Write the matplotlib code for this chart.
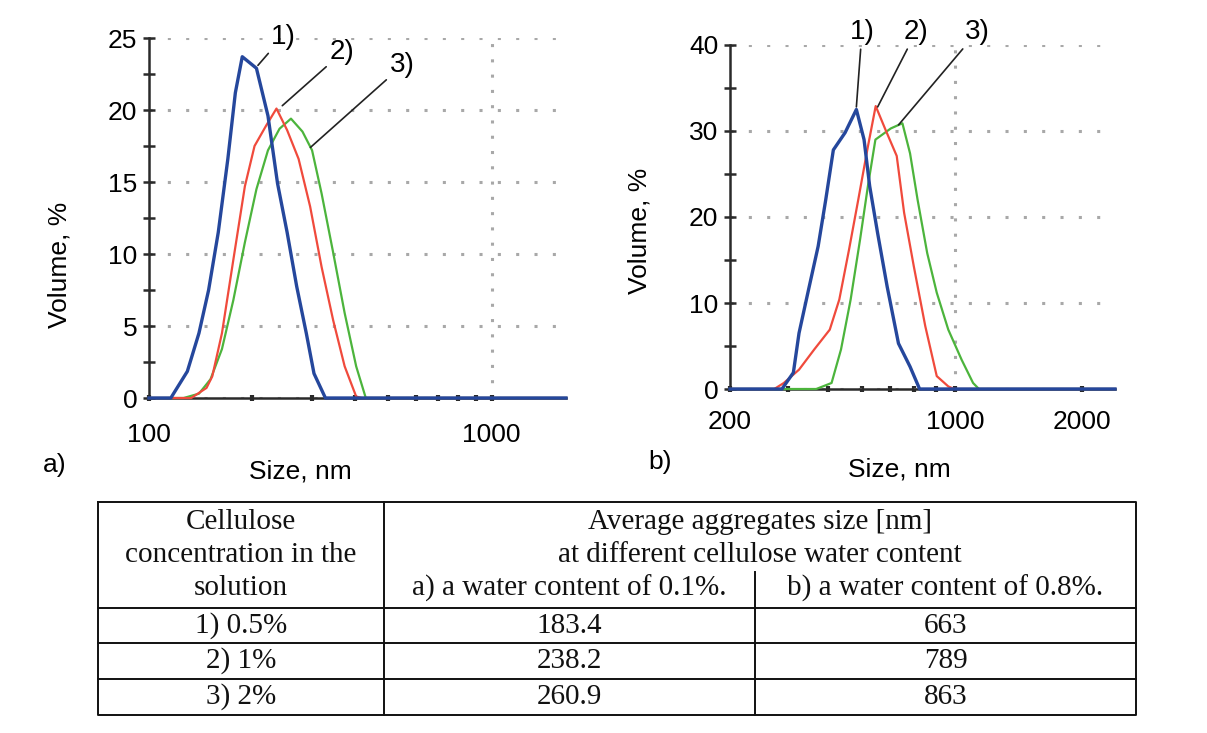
import matplotlib.pyplot as plt
from matplotlib.ticker import FixedLocator, MultipleLocator, NullFormatter

# ---- size distributions, panel a (water content 0.1%) ----
a1_size = [100, 115.8, 129.4, 139.9, 149.3, 159.3, 169.9, 178.7, 187.2, 205.9, 222.5,
           237.3, 253.1, 269.9, 287.9, 303.2, 327.4, 1650]
a1_vol = [0, 0, 1.85, 4.5, 7.5, 11.5, 16.6, 21.2, 23.7, 22.9, 19.6,
          14.9, 11.5, 7.75, 4.5, 1.7, 0, 0]

a2_size = [100, 132.8, 147.2, 153.0, 163.3, 176.3, 190.5, 203.3, 219.6, 235.6, 253.1,
           273.4, 295.4, 319.1, 344.9, 372.6, 402.6, 418.6, 1650]
a2_vol = [0, 0, 0.7, 1.5, 4.5, 9.6, 14.7, 17.5, 18.9, 20.1, 18.6,
          16.6, 13.3, 9.1, 5.4, 2.2, 0.1, 0, 0]

a3_size = [100, 126.2, 139.9, 151.2, 163.3, 176.3, 190.5, 205.9, 222.5, 240.5, 259.7,
           280.6, 299.3, 319.1, 344.9, 372.6, 402.6, 429.5, 1650]
a3_vol = [0, 0, 0.3, 1.3, 3.4, 6.8, 10.8, 14.5, 17.2, 18.7, 19.4,
          18.5, 17.2, 14.2, 10.1, 5.9, 2.2, 0, 0]

# ---- size distributions, panel b (water content 0.8%) ----
b1_size = [292, 388, 413, 426, 449, 473, 493, 514, 548, 583, 608,
           627, 655, 690, 734, 782, 824, 2400]
b1_vol = [0, 0, 1.9, 6.5, 11.6, 16.6, 22.0, 27.8, 29.8, 32.5, 29.0,
          23.6, 18.1, 11.9, 5.3, 2.6, 0, 0]

b2_size = [292, 372, 392, 426, 463, 504, 531, 560, 589, 621, 648,
           683, 727, 757, 798, 850, 905, 964, 995, 2400]
b2_vol = [0, 0, 0.7, 2.25, 4.6, 6.9, 10.4, 16.2, 22.0, 28.2, 32.9,
          30.2, 27.1, 20.5, 14.3, 7.3, 1.5, 0.3, 0, 0]

b3_size = [292, 468, 509, 536, 565, 595, 621, 647, 704, 750, 782,
           815, 859, 905, 964, 1037, 1104, 1140, 2400]
b3_vol = [0, 0, 0.7, 4.6, 10.4, 17.4, 23.6, 29.0, 30.3, 30.9, 27.4,
          22.0, 15.8, 11.2, 6.9, 3.4, 0.7, 0, 0]

# ---- table ----
conc_labels = ['1) 0.5%', '2) 1%', '3) 2%']
avg_size_a = [183.4, 238.2, 260.9]
avg_size_b = [663, 789, 863]

BLUE = '#25479c'
RED = '#f04a3c'
GREEN = '#4cb43c'
AXC = '#2a2a2a'
FS = 19

W, H = 1207, 733
plt.rcParams['font.family'] = ['Liberation Sans', 'DejaVu Sans']
fig = plt.figure(figsize=(W / 100, H / 100), dpi=100)


def box(x0, y0, x1, y1):
    # pixel box (top-left origin) -> figure fraction rect
    return [x0 / W, 1 - y1 / H, (x1 - x0) / W, (y1 - y0) / H]


tab = fig.add_axes([0, 0, 1, 1])
tab.set_xlim(0, W)
tab.set_ylim(H, 0)
tab.axis('off')

ax_a = fig.add_axes(box(149, 38, 566, 398))
ax_b = fig.add_axes(box(730, 45, 1115, 389))


def style(ax, xlim, ymax, ystep, minor_x, xpad):
    ax.set_xscale('log')
    ax.set_xlim(*xlim)
    ax.set_ylim(0, ymax)
    ax.patch.set_alpha(0)
    for s in ['top', 'right']:
        ax.spines[s].set_visible(False)
    for s in ['left', 'bottom']:
        ax.spines[s].set_linewidth(1.8)
        ax.spines[s].set_color(AXC)
    ax.yaxis.set_major_locator(MultipleLocator(ystep))
    ax.yaxis.set_minor_locator(MultipleLocator(ystep / 2))
    ax.xaxis.set_minor_locator(FixedLocator(minor_x))
    ax.xaxis.set_minor_formatter(NullFormatter())
    ax.tick_params(axis='y', which='both', direction='inout', length=9,
                   width=1.8, color=AXC, labelsize=FS, pad=4)
    ax.tick_params(axis='x', which='both', direction='inout', length=4,
                   width=3, color=AXC, labelsize=FS, pad=xpad)
    ax.grid(axis='y', which='major', linestyle=(0, (1, 5)), color='#a8a8a8', lw=2.2)
    ax.axvline(1000, linestyle=(0, (1, 4)), color='#a8a8a8', lw=2.2, zorder=0.5)
    ax.set_xlabel('Size, nm', fontsize=FS)
    ax.set_ylabel('Volume, %', fontsize=FS)


def curves(ax, data):
    for (x, y, c, lw) in data:
        ax.plot(x, y, color=c, lw=lw, clip_on=False, zorder=3)


# panel a
style(ax_a, (100, 1650), 25, 5, [200, 300, 400, 500, 600, 700, 800, 900], 16)
ax_a.set_xticks([100, 1000])
ax_a.set_xticklabels(['100', '1000'])
curves(ax_a, [(a3_size, a3_vol, GREEN, 1.6), (a2_size, a2_vol, RED, 1.6),
              (a1_size, a1_vol, BLUE, 2.4)])
ax_a.xaxis.set_label_coords(0.363, -0.172)
ax_a.yaxis.set_label_coords(-0.185, 0.37)

# panel b
style(ax_b, (292, 2400), 40, 10, [400, 500, 600, 700, 800, 900], 13)
ax_b.set_xticks([292, 1000, 2000])
ax_b.set_xticklabels(['200', '1000', '2000'])
curves(ax_b, [(b3_size, b3_vol, GREEN, 1.6), (b2_size, b2_vol, RED, 1.6),
              (b1_size, b1_vol, BLUE, 2.4)])
ax_b.xaxis.set_label_coords(0.44, -0.2)
ax_b.yaxis.set_label_coords(-0.203, 0.46)

# curve labels with leader lines
lead = dict(arrowstyle='-', color='#222222', lw=1.2, shrinkA=1, shrinkB=0)
for ax, marks in [(ax_a, [('1)', (246, 25.1), (208, 23.1)),
                          ('2)', (367, 24.0), (245, 20.3)),
                          ('3)', (550, 23.1), (296, 17.4))]),
                  (ax_b, [('1)', (601, 41.5), (583, 32.8)),
                          ('2)', (808, 41.5), (655, 32.8)),
                          ('3)', (1128, 41.5), (734, 30.7))])]:
    for txt, xyt, xy in marks:
        ax.annotate(txt, xy=xy, xytext=xyt, ha='center', va='center',
                    fontsize=FS + 1, arrowprops=lead, annotation_clip=False)

fig.text(55 / W, 1 - 465 / H, 'a)', fontsize=FS, ha='center', va='center')
fig.text(660 / W, 1 - 462 / H, 'b)', fontsize=FS, ha='center', va='center')

# ---- table drawn in pixel coordinates ----
LX0, LX1, CX1, CX2 = 98, 1136, 384, 755
TY0, TY1 = 502, 715
row_lines = [608, 643, 679]
lk = dict(color='#111111', lw=1.4)
tab.plot([LX0, LX1, LX1, LX0, LX0], [TY0, TY0, TY1, TY1, TY0], **lk)
tab.plot([CX1, CX1], [TY0, TY1], **lk)
tab.plot([CX2, CX2], [572, TY1], **lk)
for y in row_lines:
    tab.plot([LX0, LX1], [y, y], **lk)

serif = dict(family=['Liberation Serif', 'DejaVu Serif'], fontsize=21,
             ha='center', va='center', color='#111111')
c0 = (LX0 + CX1) / 2
ca = (CX1 + CX2) / 2
cb = (CX2 + LX1) / 2
tab.text(c0, 522, 'Cellulose', **serif)
tab.text(c0, 555, 'concentration in the', **serif)
tab.text(c0, 588, 'solution', **serif)
tab.text((CX1 + LX1) / 2, 522, 'Average aggregates size [nm]', **serif)
tab.text((CX1 + LX1) / 2, 555, 'at different cellulose water content', **serif)
tab.text(ca, 588, 'a) a water content of 0.1%.', **serif)
tab.text(cb, 588, 'b) a water content of 0.8%.', **serif)
row_y = [626, 661, 697]
for y, lab, va_, vb_ in zip(row_y, conc_labels, avg_size_a, avg_size_b):
    tab.text(c0, y, lab, **serif)
    tab.text(ca, y, f'{va_:.1f}', **serif)
    tab.text(cb, y, f'{vb_:d}', **serif)

fig.savefig('out.png', dpi=100, facecolor='white')
